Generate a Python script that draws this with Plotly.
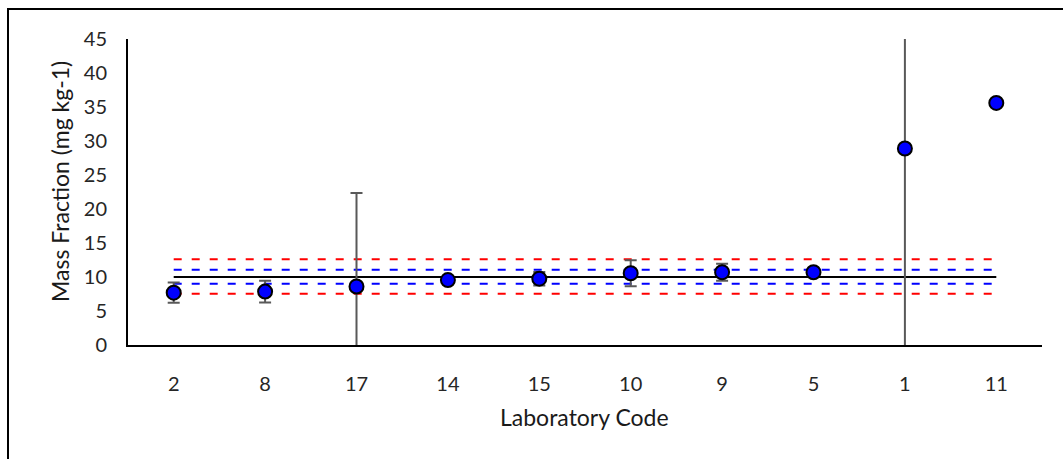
import plotly.graph_objects as go

# Laboratory results
lab_codes = ["2", "8", "17", "14", "15", "10", "9", "5", "1", "11"]
mass_fraction = [7.7, 7.85, 8.6, 9.55, 9.75, 10.55, 10.7, 10.7, 28.9, 35.6]
uncertainty = [1.5, 1.6, 13.75, 0.4, 1.0, 1.9, 1.25, 0.3, 32.0, 0.0]

# Assigned value and limits
assigned_value = 10.0
inner_limits = [9.0, 11.05]
outer_limits = [7.55, 12.6]

W, H = 1063, 459
ML, MR, MT, MB = 128, 21, 39, 114
font_family = "Lato, 'Open Sans', sans-serif"

x_idx = list(range(len(lab_codes)))
x_span = [x_idx[0], x_idx[-1]]

fig = go.Figure()

for lim in outer_limits:
    fig.add_trace(go.Scatter(x=x_span, y=[lim, lim], mode="lines",
                             line=dict(color="#ff0000", width=2, dash="8px,10px"),
                             hoverinfo="skip", showlegend=False))
for lim in inner_limits:
    fig.add_trace(go.Scatter(x=x_span, y=[lim, lim], mode="lines",
                             line=dict(color="#0000ff", width=2, dash="8px,10px"),
                             hoverinfo="skip", showlegend=False))
fig.add_trace(go.Scatter(x=x_span, y=[assigned_value, assigned_value], mode="lines",
                         line=dict(color="#000000", width=2),
                         hoverinfo="skip", showlegend=False))

fig.add_trace(go.Scatter(
    x=x_idx, y=mass_fraction, mode="markers",
    marker=dict(color="#0000ff", size=14, line=dict(color="#000000", width=2)),
    error_y=dict(type="data", array=uncertainty, visible=True,
                 color="#595959", thickness=2, width=6),
    cliponaxis=True, showlegend=False,
))

fig.update_layout(
    width=W, height=H,
    margin=dict(l=ML, r=MR, t=MT, b=MB),
    paper_bgcolor="white", plot_bgcolor="white",
    font=dict(family=font_family, size=20, color="#262626"),
    showlegend=False,
    xaxis=dict(
        range=[-0.5, len(lab_codes) - 0.5],
        tickmode="array", tickvals=x_idx, ticktext=lab_codes,
        showgrid=False, zeroline=False, showline=True,
        linecolor="#000000", linewidth=2, ticks="",
        ticklabelstandoff=20, fixedrange=True,
    ),
    yaxis=dict(
        range=[0, 45], tickmode="array", tickvals=list(range(0, 50, 5)),
        showgrid=False, zeroline=False, showline=True,
        linecolor="#000000", linewidth=2, ticks="",
        ticklabelstandoff=15, fixedrange=True,
    ),
)

pw = W - ML - MR
ph = H - MT - MB

def px_x(p):
    return (p - ML) / pw

def px_y(p):
    return (H - MB - p) / ph

# Chart frame
fig.add_shape(type="rect", xref="paper", yref="paper",
              x0=px_x(8), x1=px_x(W + 20), y0=px_y(H + 20), y1=px_y(9),
              line=dict(color="#000000", width=2), fillcolor="rgba(0,0,0,0)",
              layer="below")

fig.add_annotation(text="Laboratory Code", xref="paper", yref="paper",
                   x=px_x(584), y=px_y(417), xanchor="center", yanchor="middle",
                   showarrow=False,
                   font=dict(family=font_family, size=23, color="#1a1a1a"))
fig.add_annotation(text="Mass Fraction (mg kg-1)", xref="paper", yref="paper",
                   x=px_x(60), y=px_y(182), xanchor="center", yanchor="middle",
                   showarrow=False, textangle=-90,
                   font=dict(family=font_family, size=23, color="#1a1a1a"))

fig.write_html("out.html")
